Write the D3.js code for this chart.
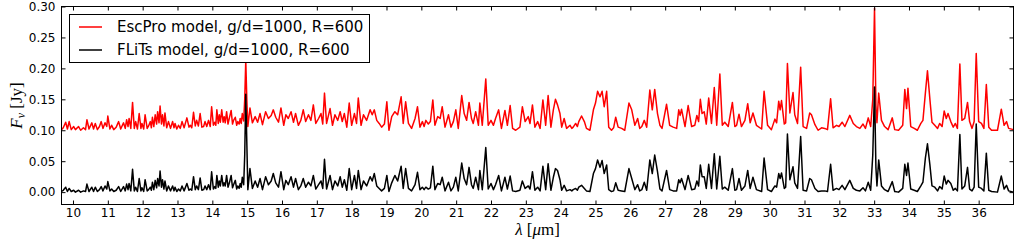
<!DOCTYPE html>
<html>
<head>
  <meta charset="utf-8">
  <title>EscPro vs FLiTs</title>
  <script src="https://cdn.jsdelivr.net/npm/d3@7"></script>
  <style>
    body { margin: 0; background: #fff; }
    svg text { font-family: "DejaVu Sans", sans-serif; }
  </style>
</head>
<body>
<div id="chart"></div>
<script>

  // wavelength of each vertex (micron)
  var wave = [
    9.67, 9.72, 9.79, 9.84, 9.89, 9.95, 10.02, 10.07, 10.16, 10.22,
    10.30, 10.36, 10.40, 10.46, 10.54, 10.59, 10.64, 10.70, 10.76, 10.81,
    10.86, 10.92, 10.97, 11.00, 11.06, 11.11, 11.17, 11.24, 11.31, 11.37,
    11.45, 11.50, 11.54, 11.58, 11.61, 11.66, 11.71, 11.76, 11.80, 11.85,
    11.90, 11.95, 11.98, 12.03, 12.07, 12.13, 12.17, 12.22, 12.25, 12.28,
    12.32, 12.36, 12.40, 12.43, 12.47, 12.50, 12.54, 12.57, 12.61, 12.64,
    12.69, 12.74, 12.80, 12.86, 12.90, 12.93, 12.98, 13.03, 13.08, 13.13,
    13.19, 13.27, 13.33, 13.37, 13.41, 13.46, 13.51, 13.55, 13.60, 13.65,
    13.70, 13.75, 13.79, 13.84, 13.89, 13.94, 13.98, 14.03, 14.07, 14.10,
    14.13, 14.17, 14.20, 14.23, 14.27, 14.31, 14.34, 14.37, 14.41, 14.45,
    14.49, 14.54, 14.58, 14.61, 14.66, 14.70, 14.73, 14.77, 14.80, 14.83,
    14.86, 14.90, 14.93, 14.96, 14.99, 15.02, 15.08, 15.15, 15.23, 15.30,
    15.37, 15.44, 15.53, 15.61, 15.69, 15.75, 15.82, 15.90, 15.97, 16.05,
    16.11, 16.18, 16.26, 16.33, 16.39, 16.47, 16.54, 16.61, 16.68, 16.76,
    16.83, 16.90, 16.97, 17.05, 17.12, 17.17, 17.22, 17.28, 17.38, 17.45,
    17.52, 17.60, 17.67, 17.73, 17.79, 17.86, 17.93, 18.00, 18.08, 18.14,
    18.19, 18.27, 18.34, 18.43, 18.53, 18.59, 18.65, 18.72, 18.79, 18.86,
    18.94, 19.01, 19.07, 19.15, 19.24, 19.32, 19.42, 19.48, 19.55, 19.63,
    19.72, 19.82, 19.89, 19.96, 20.03, 20.08, 20.13, 20.20, 20.26, 20.33,
    20.39, 20.47, 20.54, 20.60, 20.68, 20.78, 20.85, 20.92, 20.99, 21.06,
    21.16, 21.23, 21.30, 21.37, 21.44, 21.49, 21.56, 21.64, 21.68, 21.75,
    21.85, 21.92, 22.00, 22.07, 22.13, 22.22, 22.30, 22.40, 22.47, 22.55,
    22.62, 22.71, 22.83, 22.90, 22.98, 23.07, 23.12, 23.19, 23.26, 23.34,
    23.41, 23.49, 23.57, 23.64, 23.72, 23.79, 23.85, 23.91, 23.98, 24.03,
    24.10, 24.17, 24.27, 24.32, 24.36, 24.43, 24.48, 24.52, 24.60, 24.68,
    24.74, 24.84, 24.94, 25.00, 25.06, 25.13, 25.19, 25.25, 25.32, 25.38,
    25.46, 25.52, 25.58, 25.65, 25.75, 25.84, 25.96, 26.04, 26.13, 26.21,
    26.27, 26.33, 26.40, 26.47, 26.56, 26.63, 26.70, 26.78, 26.85, 26.91,
    27.04, 27.13, 27.23, 27.33, 27.39, 27.43, 27.47, 27.57, 27.66, 27.76,
    27.85, 27.91, 27.96, 28.01, 28.06, 28.12, 28.18, 28.25, 28.33, 28.41,
    28.48, 28.57, 28.64, 28.71, 28.81, 28.93, 29.00, 29.05, 29.12, 29.19,
    29.29, 29.37, 29.44, 29.52, 29.62, 29.77, 29.84, 29.94, 30.05, 30.15,
    30.20, 30.26, 30.30, 30.34, 30.42, 30.46, 30.51, 30.58, 30.67, 30.72,
    30.80, 30.89, 30.96, 31.06, 31.15, 31.20, 31.30, 31.39, 31.49, 31.58,
    31.66, 31.75, 31.82, 31.92, 31.99, 32.08, 32.16, 32.30, 32.40, 32.49,
    32.59, 32.68, 32.75, 32.83, 32.90, 32.96, 33.01, 33.05, 33.08, 33.13,
    33.21, 33.30, 33.40, 33.52, 33.59, 33.70, 33.82, 33.88, 33.93, 33.97,
    34.05, 34.15, 34.24, 34.34, 34.40, 34.47, 34.53, 34.60, 34.66, 34.74,
    34.82, 34.88, 34.95, 35.01, 35.07, 35.12, 35.20, 35.27, 35.33, 35.39,
    35.46, 35.52, 35.60, 35.68, 35.74, 35.81, 35.87, 35.93, 36.00, 36.08,
    36.15, 36.22, 36.29, 36.37, 36.54, 36.65, 36.73, 36.80, 36.86, 37.00
  ];

  // EscPro model flux (Jy)
  var escpro = [
    .101, .104, .113, .102, .114, .101, .106, .101, .106, .100,
    .104, .101, .117, .102, .112, .102, .111, .101, .106, .114,
    .103, .112, .106, .123, .102, .108, .101, .105, .114, .102,
    .112, .103, .117, .106, .119, .103, .145, .103, .114, .102,
    .127, .103, .111, .102, .125, .103, .107, .114, .104, .121,
    .106, .125, .110, .130, .112, .139, .110, .125, .107, .128,
    .104, .114, .103, .114, .104, .111, .102, .108, .103, .114,
    .104, .120, .105, .108, .104, .129, .107, .116, .107, .127,
    .105, .106, .114, .106, .116, .106, .138, .108, .113, .108,
    .133, .111, .125, .113, .133, .113, .122, .112, .130, .110,
    .120, .132, .110, .116, .121, .108, .114, .110, .119, .111,
    .127, .115, .150, .213, .150, .106, .136, .112, .122, .113,
    .127, .109, .130, .119, .124, .133, .121, .113, .136, .108,
    .125, .119, .130, .113, .127, .108, .116, .133, .114, .125,
    .116, .141, .111, .119, .127, .110, .160, .111, .135, .108,
    .125, .116, .130, .114, .127, .105, .144, .108, .127, .111,
    .152, .108, .125, .116, .133, .125, .133, .116, .111, .105,
    .110, .146, .100, .122, .130, .125, .154, .111, .146, .111,
    .103, .119, .138, .105, .114, .106, .116, .110, .114, .149,
    .108, .122, .119, .138, .105, .125, .105, .114, .133, .103,
    .156, .127, .116, .145, .119, .111, .130, .108, .144, .108,
    .183, .108, .116, .108, .119, .133, .103, .132, .108, .140,
    .103, .100, .105, .138, .114, .122, .111, .141, .105, .114,
    .103, .149, .108, .156, .105, .133, .150, .141, .127, .105,
    .119, .103, .108, .103, .105, .111, .106, .114, .123, .114,
    .103, .100, .133, .144, .163, .154, .163, .138, .163, .105,
    .100, .104, .121, .105, .103, .100, .144, .133, .108, .119,
    .103, .106, .116, .105, .165, .133, .166, .127, .108, .103,
    .142, .108, .105, .103, .133, .124, .134, .106, .140, .106,
    .108, .124, .114, .150, .127, .130, .110, .152, .111, .169,
    .108, .191, .108, .113, .106, .145, .106, .108, .126, .106,
    .116, .143, .112, .128, .108, .102, .163, .108, .101, .118,
    .112, .147, .133, .148, .110, .112, .208, .128, .161, .125,
    .111, .202, .106, .103, .128, .125, .109, .100, .104, .103,
    .101, .151, .104, .108, .106, .113, .106, .124, .111, .106,
    .103, .110, .103, .120, .106, .150, .297, .140, .112, .160,
    .116, .106, .101, .120, .101, .100, .108, .166, .135, .168,
    .106, .103, .100, .111, .116, .160, .196, .150, .113, .108,
    .103, .111, .106, .131, .119, .127, .114, .105, .111, .103,
    .207, .116, .119, .145, .114, .103, .114, .224, .114, .111,
    .103, .174, .105, .100, .100, .134, .108, .114, .103, .101
  ];

  // FLiTs model flux (Jy)
  var flits = [
    .001, .003, .008, .001, .006, .001, .003, .000, .003, .000,
    .002, .001, .013, .001, .008, .001, .008, .001, .004, .009,
    .002, .010, .005, .017, .002, .005, .001, .003, .009, .001,
    .009, .002, .013, .004, .014, .002, .037, .002, .008, .001,
    .022, .002, .007, .001, .020, .002, .004, .008, .003, .016,
    .004, .019, .007, .022, .010, .034, .008, .020, .005, .018,
    .002, .010, .002, .010, .002, .008, .001, .005, .002, .010,
    .002, .014, .003, .005, .003, .025, .004, .010, .004, .023,
    .003, .004, .010, .004, .012, .004, .033, .005, .009, .006,
    .027, .008, .018, .010, .027, .010, .015, .010, .027, .008,
    .015, .027, .007, .012, .019, .005, .010, .006, .014, .008,
    .024, .012, .060, .158, .080, .004, .038, .006, .018, .008,
    .022, .004, .025, .012, .018, .030, .015, .008, .033, .004,
    .019, .012, .025, .008, .022, .004, .010, .022, .008, .016,
    .010, .027, .005, .012, .018, .006, .053, .005, .027, .004,
    .018, .010, .025, .008, .020, .003, .038, .004, .027, .006,
    .035, .004, .018, .010, .025, .018, .030, .010, .006, .002,
    .006, .027, .001, .015, .027, .018, .042, .006, .038, .006,
    .002, .012, .032, .004, .008, .004, .008, .005, .007, .042,
    .004, .014, .012, .024, .002, .016, .002, .008, .024, .002,
    .047, .022, .012, .040, .012, .006, .024, .004, .035, .004,
    .072, .005, .014, .004, .012, .027, .002, .024, .005, .026,
    .002, .001, .003, .018, .006, .010, .005, .033, .003, .008,
    .002, .042, .004, .046, .003, .024, .038, .035, .020, .003,
    .011, .002, .004, .002, .004, .006, .003, .008, .011, .006,
    .002, .001, .030, .038, .052, .040, .051, .030, .044, .004,
    .001, .002, .015, .003, .002, .001, .038, .022, .004, .012,
    .002, .004, .016, .003, .052, .030, .060, .033, .005, .002,
    .035, .004, .002, .002, .020, .015, .022, .004, .027, .004,
    .005, .018, .010, .044, .025, .025, .006, .045, .006, .062,
    .005, .058, .005, .008, .003, .038, .003, .004, .022, .003,
    .010, .035, .006, .024, .004, .001, .055, .004, .001, .010,
    .008, .030, .022, .031, .006, .008, .094, .020, .041, .015,
    .006, .090, .003, .002, .022, .020, .006, .001, .002, .002,
    .001, .045, .003, .006, .004, .011, .004, .019, .006, .003,
    .002, .007, .002, .016, .003, .060, .170, .040, .010, .052,
    .010, .004, .001, .017, .001, .000, .006, .045, .027, .047,
    .005, .003, .001, .010, .016, .055, .078, .044, .010, .008,
    .002, .009, .005, .026, .013, .019, .014, .003, .006, .002,
    .093, .005, .010, .040, .005, .002, .008, .110, .008, .006,
    .002, .063, .003, .001, .000, .026, .005, .011, .002, .000
  ];

  var xTicks = d3.range(10, 37);
  var yTicks = [0.00, 0.05, 0.10, 0.15, 0.20, 0.25, 0.30];
  var seriesNames = ['EscPro model, g/d=1000, R=600', 'FLiTs model, g/d=1000, R=600'];
  var seriesColors = ['#ff0000', '#000000'];

  var w = 1024,
      h = 241;
  var plotLeft = 61.5, plotRight = 1013.5, plotTop = 6.5, plotBottom = 204.5;

  var svg = d3.select('#chart').append('svg')
      .attr('width', w)
      .attr('height', h);

  var x = d3.scaleLinear().domain([9.67, 37]).range([plotLeft, plotRight]);
  var y = d3.scaleLinear().domain([-0.02, 0.30]).range([plotBottom, plotTop]);

  svg.append('clipPath').attr('id', 'clip')
    .append('rect')
      .attr('x', plotLeft).attr('y', plotTop)
      .attr('width', plotRight - plotLeft).attr('height', plotBottom - plotTop);

  var line = d3.line()
      .x(function(d, i){ return x(wave[i]); })
      .y(function(d){ return y(d); });

  svg.append('g').attr('clip-path', 'url(#clip)')
    .selectAll('path.series')
      .data([escpro, flits])
      .enter().append('path')
      .attr('class', 'series')
      .attr('d', line)
      .attr('fill', 'none')
      .attr('stroke', function(d, i){ return seriesColors[i]; })
      .attr('stroke-width', 1.5)
      .attr('stroke-linejoin', 'round');

  // ticks point inward on all four sides, labels only bottom and left
  function styleAxis(g){
    g.select('.domain').remove();
    g.selectAll('.tick line').attr('stroke', '#000').attr('stroke-width', 1);
    g.selectAll('.tick text').attr('fill', '#000').style('font-size', '12px');
  }

  svg.append('g')
      .attr('transform', 'translate(0,' + plotBottom + ')')
      .call(d3.axisBottom(x).tickValues(xTicks).tickSizeInner(-4).tickSizeOuter(0)
        .tickPadding(4).tickFormat(d3.format('d')))
      .call(styleAxis);

  svg.append('g')
      .attr('transform', 'translate(0,' + plotTop + ')')
      .call(d3.axisTop(x).tickValues(xTicks).tickSizeInner(-4).tickSizeOuter(0).tickFormat(''))
      .call(styleAxis);

  svg.append('g')
      .attr('transform', 'translate(' + plotLeft + ',0)')
      .call(d3.axisLeft(y).tickValues(yTicks).tickSizeInner(-4).tickSizeOuter(0)
        .tickPadding(6).tickFormat(d3.format('.2f')))
      .call(styleAxis);

  svg.append('g')
      .attr('transform', 'translate(' + plotRight + ',0)')
      .call(d3.axisRight(y).tickValues(yTicks).tickSizeInner(-4).tickSizeOuter(0).tickFormat(''))
      .call(styleAxis);

  svg.append('rect')
      .attr('x', plotLeft).attr('y', plotTop)
      .attr('width', plotRight - plotLeft).attr('height', plotBottom - plotTop)
      .attr('fill', 'none').attr('stroke', '#000').attr('stroke-width', 1);

  // legend
  var legend = svg.append('g');
  legend.append('rect')
      .attr('x', 69.5).attr('y', 14.5).attr('width', 300).attr('height', 48)
      .attr('fill', '#fff').attr('stroke', '#000').attr('stroke-width', 1);

  var item = legend.selectAll('g.item')
      .data(seriesNames)
      .enter().append('g')
      .attr('class', 'item')
      .attr('transform', function(d, i){ return 'translate(0,' + (27 + i * 23) + ')'; });
  item.append('line')
      .attr('x1', 79).attr('x2', 102)
      .attr('stroke', function(d, i){ return seriesColors[i]; })
      .attr('stroke-width', 1.5);
  item.append('text')
      .attr('x', 117).attr('y', 5.3)
      .style('font-size', '15px')
      .text(function(d){ return d; });

  // axis labels
  var serif = '"Liberation Serif", "DejaVu Serif", serif';
  var xl = svg.append('text')
      .attr('x', (plotLeft + plotRight) / 2).attr('y', 235)
      .attr('text-anchor', 'middle')
      .style('font-family', serif).style('font-size', '17px');
  xl.append('tspan').style('font-style', 'italic').text('λ');
  xl.append('tspan').text(' [');
  xl.append('tspan').style('font-style', 'italic').text('μ');
  xl.append('tspan').text('m]');

  var yl = svg.append('text')
      .attr('transform', 'translate(22,' + ((plotTop + plotBottom) / 2) + ') rotate(-90)')
      .attr('text-anchor', 'middle')
      .style('font-family', serif).style('font-size', '17px');
  yl.append('tspan').style('font-style', 'italic').text('F');
  yl.append('tspan').style('font-style', 'italic').style('font-size', '12px').attr('dy', 3).text('ν');
  yl.append('tspan').attr('dy', -3).text(' [Jy]');

</script>
</body>
</html>
